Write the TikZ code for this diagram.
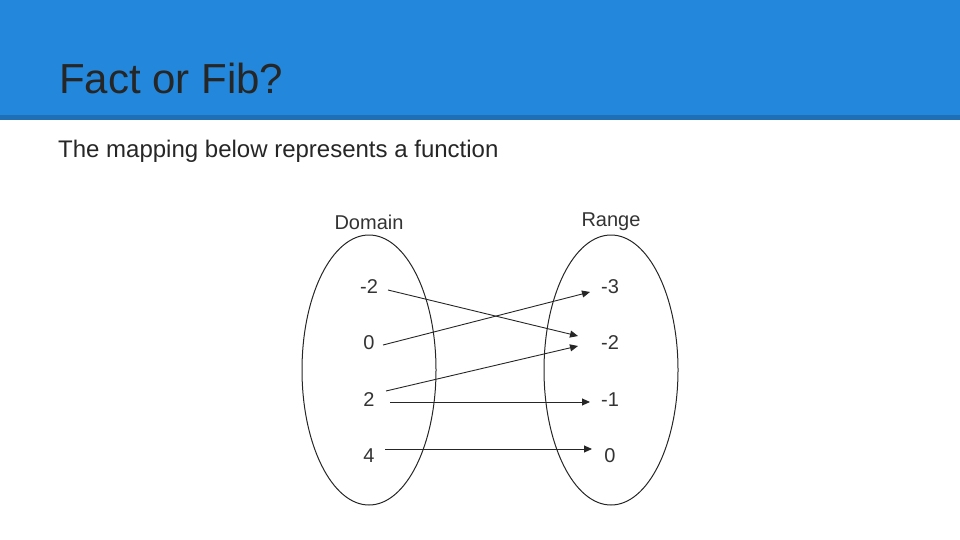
\documentclass[tikz,border=0pt]{standalone}
\usepackage{fontspec}
\setmainfont{Liberation Sans}
\usetikzlibrary{arrows.meta}
\definecolor{hdr}{HTML}{2388DB}
\definecolor{hdrdark}{HTML}{1F6FB5}
\begin{document}
\begin{tikzpicture}[x=1pt,y=-1pt,
  lbl/.style={font=\fontsize{20}{24}\selectfont, text=black!80},
  val/.style={font=\fontsize{20}{24}\selectfont, text=black!80},
  oval/.style={draw=black!85, line width=1pt},
  arr/.style={-{Triangle[length=8pt,width=7pt]}, line width=0.9pt, black!85}]
\useasboundingbox (0,0) rectangle (960,540);
\fill[hdr] (0,0) rectangle (960,115);
\fill[hdrdark] (0,115) rectangle (960,120);
\node[anchor=west, inner sep=0pt, font=\fontsize{42}{50}\selectfont, text=black!85] (title) at (59,78) {Fact or Fib?};
\node[anchor=west, inner sep=0pt, font=\fontsize{24}{29}\selectfont, text=black!85] (sub) at (58,151) {The mapping below represents a function};
\draw[oval] (369,370) ellipse [x radius=67, y radius=135];
\draw[oval] (611,370) ellipse [x radius=67, y radius=135];
\node[lbl] (dom) at (369,222) {Domain};
\node[lbl] (ran) at (611,222) {Range};
\node[val] (d1) at (369,287) {-2};
\node[val] (d2) at (369,343) {0};
\node[val] (d3) at (369,400) {2};
\node[val] (d4) at (369,456) {4};
\node[val] (r1) at (610,287) {-3};
\node[val] (r2) at (610,343) {-2};
\node[val] (r3) at (610,400) {-1};
\node[val] (r4) at (610,456) {0};
\coordinate (a1) at (388,290); \coordinate (b1) at (578,336);
\coordinate (a2) at (383,345); \coordinate (b2) at (590,292);
\coordinate (a3) at (386,391); \coordinate (b3) at (578,346);
\coordinate (a4) at (390,402); \coordinate (b4) at (590,402);
\coordinate (a5) at (385,449); \coordinate (b5) at (592,449);
\draw[arr] (a1) -- (b1);
\draw[arr] (a2) -- (b2);
\draw[arr] (a3) -- (b3);
\draw[arr] (a4) -- (b4);
\draw[arr] (a5) -- (b5);
\end{tikzpicture}
\end{document}
